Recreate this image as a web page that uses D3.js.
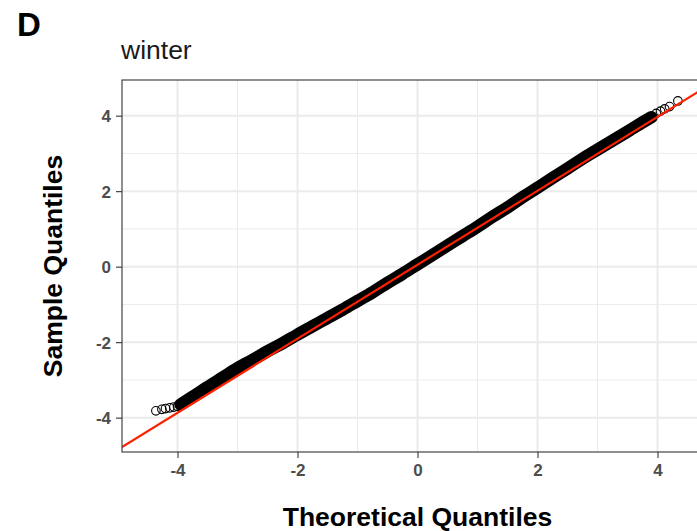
<!DOCTYPE html>
<html>
<head>
<meta charset="utf-8">
<script src="https://cdn.jsdelivr.net/npm/d3@7"></script>
<style>
  html, body { margin: 0; padding: 0; background: #fff; }
  svg { display: block; font-family: "Liberation Sans", Arial, sans-serif; }
</style>
</head>
<body>
<svg id="chart" width="697" height="531"></svg>
<script>
// Normal Q-Q plot of winter residuals
const panelTag = "D";
const panelTitle = "winter";
const xTitle = "Theoretical Quantiles";
const yTitle = "Sample Quantiles";

// Tail observations (individual markers)
const tailTheoretical = [-4.36, -4.26, -4.20, -4.13, -4.06, -4.00, 3.98, 4.05, 4.12, 4.20, 4.34];
const tailSample      = [-3.82, -3.78, -3.76, -3.74, -3.72, -3.70, 4.06, 4.12, 4.18, 4.24, 4.39];

// Body of the distribution (densely overlapping markers)
const bodyTheoretical = [-3.95, -3.75, -3.5, -3.25, -3.0, -2.75, -2.5, -2.25, -2.0, -1.75, -1.5, -1.25,
  -1.0, -0.75, -0.5, -0.25, 0, 0.25, 0.5, 0.75, 1.0, 1.25, 1.5, 1.75, 2.0, 2.25, 2.5, 2.75,
  3.0, 3.25, 3.5, 3.75, 3.9];
const bodySample = [-3.65, -3.45, -3.19, -2.94, -2.69, -2.47, -2.24, -2.03, -1.80, -1.58, -1.36, -1.14,
  -0.91, -0.68, -0.43, -0.19, 0.06, 0.31, 0.56, 0.81, 1.06, 1.32, 1.57, 1.84, 2.09, 2.35, 2.60, 2.86,
  3.10, 3.34, 3.58, 3.82, 3.96];

// Reference line (qqline)
const lineIntercept = 0.05;
const lineSlope = 0.98;

const xTicks = [-4, -2, 0, 2, 4];
const yTicks = [-4, -2, 0, 2, 4];
const xMinor = [-5, -3, -1, 1, 3];
const yMinor = [-5, -3, -1, 1, 3];

const svg = d3.select("#chart");
const pLeft = 122, pRight = 713, pTop = 80, pBottom = 452;

const x = d3.scaleLinear().domain([-4.925, 4.925]).range([pLeft, pRight]);
const y = d3.scaleLinear().domain([-4.91, 4.945]).range([pBottom, pTop]);

svg.append("defs").append("clipPath").attr("id", "panel")
  .append("rect").attr("x", pLeft).attr("y", pTop).attr("width", pRight - pLeft).attr("height", pBottom - pTop);

// grid
const grid = svg.append("g").attr("clip-path", "url(#panel)");
grid.selectAll(".vminor").data(xMinor).join("line")
  .attr("x1", d => x(d)).attr("x2", d => x(d)).attr("y1", pTop).attr("y2", pBottom)
  .attr("stroke", "#ebebeb").attr("stroke-width", 1);
grid.selectAll(".hminor").data(yMinor).join("line")
  .attr("y1", d => y(d)).attr("y2", d => y(d)).attr("x1", pLeft).attr("x2", pRight)
  .attr("stroke", "#ebebeb").attr("stroke-width", 1);
grid.selectAll(".vmajor").data(xTicks).join("line")
  .attr("x1", d => x(d)).attr("x2", d => x(d)).attr("y1", pTop).attr("y2", pBottom)
  .attr("stroke", "#ebebeb").attr("stroke-width", 2);
grid.selectAll(".hmajor").data(yTicks).join("line")
  .attr("y1", d => y(d)).attr("y2", d => y(d)).attr("x1", pLeft).attr("x2", pRight)
  .attr("stroke", "#ebebeb").attr("stroke-width", 2);

// points: the body is so dense that the markers merge into a solid band
const plot = svg.append("g").attr("clip-path", "url(#panel)");
const body = bodyTheoretical.map((t, i) => [t, bodySample[i]]);
const tails = tailTheoretical.map((t, i) => [t, tailSample[i]]);
const line = d3.line().x(d => x(d[0])).y(d => y(d[1])).curve(d3.curveMonotoneX);

plot.append("path").datum(body).attr("d", line)
  .attr("fill", "none").attr("stroke", "#000").attr("stroke-width", 12.5)
  .attr("stroke-linecap", "round");
plot.selectAll("circle.t").data(tails).join("circle")
  .attr("cx", d => x(d[0])).attr("cy", d => y(d[1])).attr("r", 4.3)
  .attr("fill", "none").attr("stroke", "#000").attr("stroke-width", 1.1);
plot.selectAll("circle.b").data(body).join("circle")
  .attr("cx", d => x(d[0])).attr("cy", d => y(d[1])).attr("r", 4.3)
  .attr("fill", "none").attr("stroke", "#000").attr("stroke-width", 1.1);

// reference line
const xd = x.domain();
plot.append("line")
  .attr("x1", x(xd[0])).attr("y1", y(lineIntercept + lineSlope * xd[0]))
  .attr("x2", x(xd[1])).attr("y2", y(lineIntercept + lineSlope * xd[1]))
  .attr("stroke", "#ff2000").attr("stroke-width", 2.2);

// border
svg.append("rect").attr("x", pLeft).attr("y", pTop).attr("width", pRight - pLeft).attr("height", pBottom - pTop)
  .attr("fill", "none").attr("stroke", "#333").attr("stroke-width", 1.1);

// axes
const fmt = d => String(d);
const xAxis = svg.append("g").attr("transform", `translate(0,${pBottom})`)
  .call(d3.axisBottom(x).tickValues(xTicks).tickSize(6).tickPadding(6).tickFormat(fmt));
const yAxis = svg.append("g").attr("transform", `translate(${pLeft},0)`)
  .call(d3.axisLeft(y).tickValues(yTicks).tickSize(6).tickPadding(5).tickFormat(fmt));
[xAxis, yAxis].forEach(g => {
  g.select(".domain").remove();
  g.selectAll(".tick line").attr("stroke", "#333").attr("stroke-width", 1.1);
  g.selectAll(".tick text").attr("fill", "#4d4d4d").attr("font-size", 17)
    .attr("font-weight", "bold").attr("font-family", "Liberation Sans, Arial, sans-serif");
});
yAxis.selectAll(".tick text").attr("dy", "0.36em");

// titles
svg.append("text").attr("x", 17).attr("y", 36).text(panelTag)
  .attr("font-size", 33).attr("font-weight", "bold").attr("fill", "#000");
svg.append("text").attr("x", 121).attr("y", 59).text(panelTitle)
  .attr("font-size", 26.5).attr("fill", "#1a1a1a");
svg.append("text").attr("x", (pLeft + pRight) / 2).attr("y", 526).attr("text-anchor", "middle")
  .text(xTitle).attr("font-size", 26.5).attr("font-weight", "bold").attr("fill", "#000");
svg.append("text").attr("transform", `translate(62,${(pTop + pBottom) / 2}) rotate(-90)`)
  .attr("text-anchor", "middle").text(yTitle)
  .attr("font-size", 26.5).attr("font-weight", "bold").attr("fill", "#000");
</script>
</body>
</html>
